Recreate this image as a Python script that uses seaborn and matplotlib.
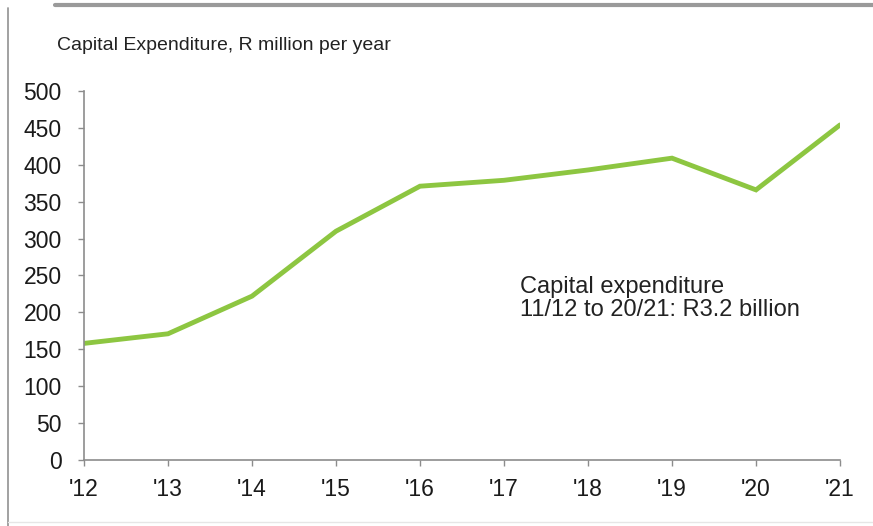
import matplotlib
matplotlib.use("Agg")
import matplotlib.pyplot as plt
from matplotlib.lines import Line2D
import seaborn as sns
import pandas as pd

# Annual capital expenditure, R million
years = ["'12", "'13", "'14", "'15", "'16", "'17", "'18", "'19", "'20", "'21"]
capex = [158, 171, 222, 310, 371, 379, 393, 409, 366, 454]
y_ticks = [0, 50, 100, 150, 200, 250, 300, 350, 400, 450, 500]

df = pd.DataFrame({"year": range(len(years)), "capex": capex})

sns.set_theme(style="white")
plt.rcParams["font.family"] = ["Liberation Sans", "DejaVu Sans"]

fig = plt.figure(figsize=(8.73, 5.26), dpi=100)
ax = fig.add_axes([0.0962, 0.1255, 0.8660, 0.7015])

sns.lineplot(data=df, x="year", y="capex", ax=ax, color="#8dc641",
             linewidth=3.5, solid_joinstyle="miter")

ax.set_xlim(0, len(years) - 1)
ax.set_ylim(0, 500)
ax.set_xticks(range(len(years)))
ax.set_xticklabels(years)
ax.set_yticks(y_ticks)
ax.set_xlabel("")
ax.set_ylabel("")

for side in ("top", "right"):
    ax.spines[side].set_visible(False)
for side in ("left", "bottom"):
    ax.spines[side].set_color("#8c8c8c")
    ax.spines[side].set_linewidth(1.2)

ax.tick_params(axis="both", which="major", direction="out", length=4,
               width=1.0, color="#8c8c8c", labelsize=16.5, labelcolor="#1a1a1a",
               left=True, bottom=True)
ax.tick_params(axis="y", pad=12)
ax.tick_params(axis="x", pad=9)

fig.text(0.065, 0.913, "Capital Expenditure, R million per year",
         fontsize=14, color="#222222", va="center", ha="left")

fig.text(0.596, 0.476, "Capital expenditure\n11/12 to 20/21: R3.2 billion",
         fontsize=17, color="#222222", va="top", ha="left", linespacing=1.08)

# Frame lines around the panel
fig.add_artist(Line2D([0.063, 1.0], [0.991, 0.991], transform=fig.transFigure,
                      color="#9a9a9a", linewidth=3))
fig.add_artist(Line2D([0.0095, 0.0095], [0.0, 0.985], transform=fig.transFigure,
                      color="#9a9a9a", linewidth=1.3))
fig.add_artist(Line2D([0.0095, 1.0], [0.007, 0.007], transform=fig.transFigure,
                      color="#e6e6e6", linewidth=1))

fig.savefig("out.png", dpi=100)
